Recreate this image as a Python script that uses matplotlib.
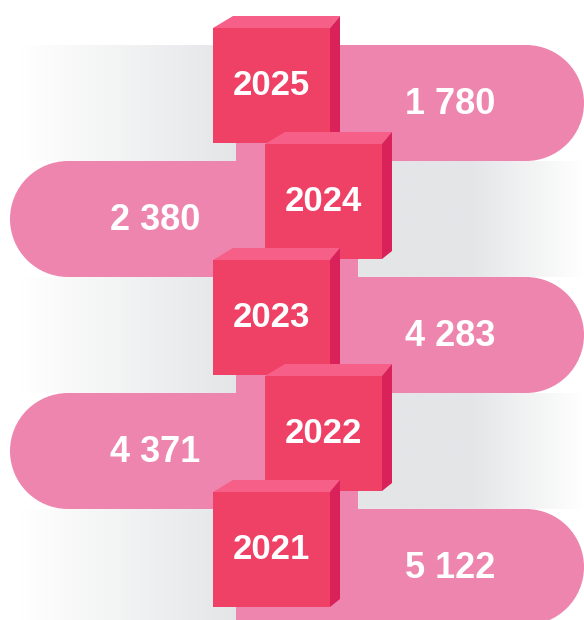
import numpy as np
import matplotlib.pyplot as plt
from matplotlib import patches
from matplotlib.colors import LinearSegmentedColormap

# data
years = ['2025', '2024', '2023', '2022', '2021']
values = [1780, 2380, 4283, 4371, 5122]
sides = ['right', 'left', 'right', 'left', 'right']

pill_col = '#EE85AE'
front_col = '#EF4166'
top_col = '#F65F88'
side_col = '#D9215A'

plt.rcParams['font.family'] = ['Liberation Sans', 'DejaVu Sans']

fig = plt.figure(figsize=(5.84, 6.2), dpi=100)
ax = fig.add_axes([0, 0, 1, 1])
ax.set_xlim(0, 584)
ax.set_ylim(620, 0)
ax.axis('off')

row_h = 116
top0 = 45
r = row_h / 2

grey_in = LinearSegmentedColormap.from_list('g1', ['#FFFFFF', '#E4E5E7'])
grey_out = LinearSegmentedColormap.from_list('g2', ['#E4E5E7', '#E4E5E7', '#FFFFFF'])
grad = np.linspace(0, 1, 256).reshape(1, -1)

# grey bands and pills
for i, side in enumerate(sides):
    y0 = top0 + i * row_h
    if side == 'right':
        ax.imshow(grad, cmap=grey_in, extent=(20, 240, y0 + row_h, y0), aspect='auto', zorder=0)
        x0, x1 = 236, 584
        ax.add_patch(patches.Rectangle((x0, y0), x1 - r - x0, row_h, fc=pill_col, lw=0, zorder=1))
        ax.add_patch(patches.Circle((x1 - r, y0 + r), r, fc=pill_col, lw=0, zorder=1))
    else:
        ax.imshow(grad, cmap=grey_out, extent=(355, 584, y0 + row_h, y0), aspect='auto', zorder=0)
        x0, x1 = 10, 358
        ax.add_patch(patches.Rectangle((x0 + r, y0), x1 - x0 - r, row_h, fc=pill_col, lw=0, zorder=1))
        ax.add_patch(patches.Circle((x0 + r, y0 + r), r, fc=pill_col, lw=0, zorder=1))

# value labels
for i, side in enumerate(sides):
    y0 = top0 + i * row_h
    xc = 450 if side == 'right' else 155
    txt = '{:,}'.format(values[i]).replace(',', ' ')
    ax.text(xc, y0 + r + 2, txt, color='white', fontsize=26, fontweight='bold',
            ha='center', va='center', zorder=2)

# 3d boxes with years
bw, bh = 117, 115
for i, side in enumerate(sides):
    y0 = top0 + i * row_h - 17
    bx = 213 if side == 'right' else 265
    z = 3 + i
    front = patches.Rectangle((bx, y0), bw, bh, fc=front_col, lw=0, zorder=z)
    top = patches.Polygon([(bx, y0), (bx + 20, y0 - 12), (bx + bw + 10, y0 - 12), (bx + bw, y0)],
                          closed=True, fc=top_col, lw=0, zorder=z)
    right = patches.Polygon([(bx + bw, y0), (bx + bw + 10, y0 - 12), (bx + bw + 10, y0 + bh - 8), (bx + bw, y0 + bh)],
                            closed=True, fc=side_col, lw=0, zorder=z)
    for p in (front, top, right):
        ax.add_patch(p)
    ax.text(bx + bw / 2, y0 + bh / 2, years[i], color='white', fontsize=25,
            fontweight='bold', ha='center', va='center', zorder=z)

plt.savefig('out.png', dpi=100)
